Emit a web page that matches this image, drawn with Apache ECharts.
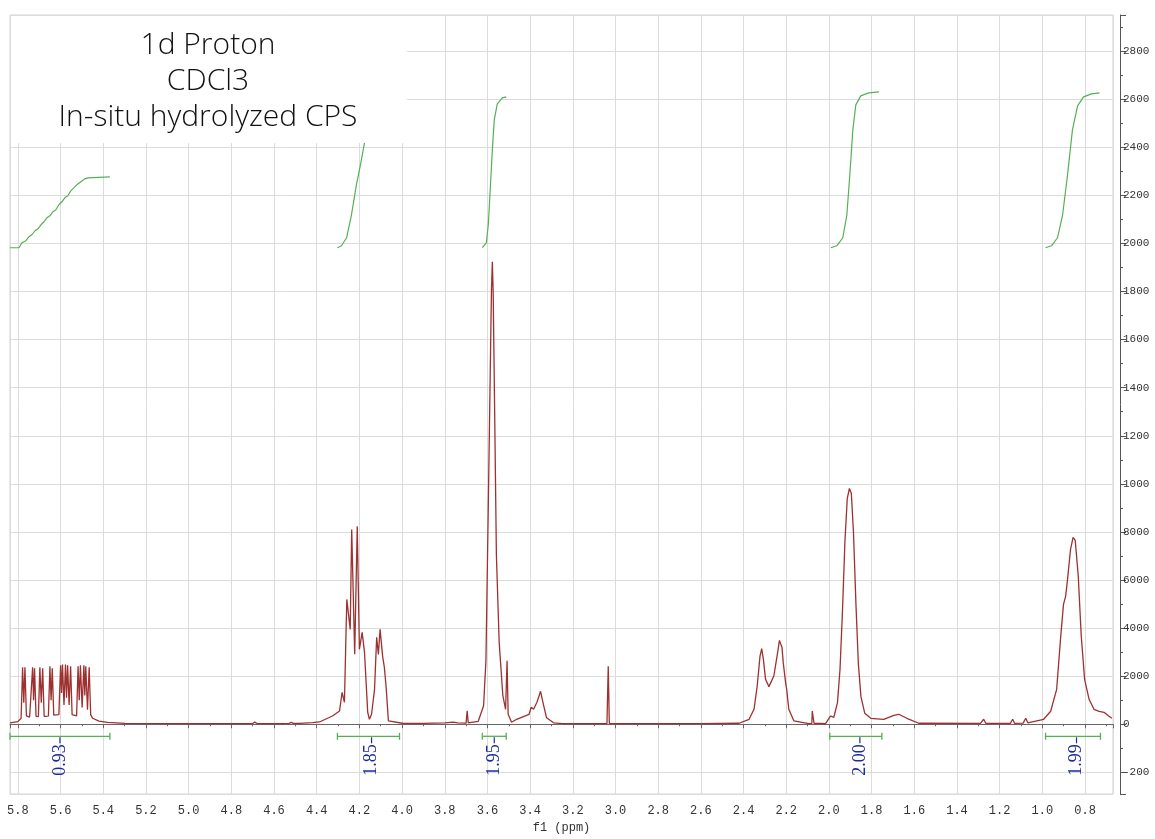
<!DOCTYPE html>
<html>
<head>
<meta charset="utf-8">
<title>1d Proton - CDCl3</title>
<script src="https://cdn.jsdelivr.net/npm/echarts@6.0.0/dist/echarts.min.js"></script>
<style>
  html, body { margin: 0; padding: 0; background: #fff; }
  #chart { width: 1155px; height: 839px; }
</style>
</head>
<body>
<div id="chart"></div>
<script>
// ---- data --------------------------------------------------------------
// 1H spectrum, [shift in ppm, intensity]
const spectrum = [
  [5.837, 60], [5.800, 110], [5.785, 250],
  [5.778, 2370], [5.7725, 900], [5.767, 2370], [5.760, 350], [5.745, 300], [5.737, 350],
  [5.731, 2370], [5.7265, 1000], [5.722, 2330], [5.715, 330], [5.704, 320],
  [5.697, 2370], [5.6905, 900], [5.684, 2330], [5.677, 330], [5.657, 340],
  [5.650, 2410], [5.6445, 1000], [5.639, 2330], [5.632, 380], [5.608, 400],
  [5.600, 2450], [5.5955, 1300], [5.591, 2490], [5.584, 800], [5.577, 2490],
  [5.572, 1100], [5.567, 2450], [5.560, 800], [5.553, 2410], [5.546, 400], [5.525, 350],
  [5.518, 2410], [5.5125, 1000], [5.507, 2450], [5.499, 700], [5.491, 2450],
  [5.4865, 1200], [5.482, 2410], [5.474, 600], [5.466, 2370], [5.459, 400],
  [5.450, 250], [5.420, 130], [5.380, 80], [5.300, 40], [5.000, 30],
  [4.700, 30], [4.690, 90], [4.680, 30], [4.530, 30], [4.520, 80], [4.510, 35],
  [4.480, 40], [4.420, 70], [4.387, 96], [4.326, 345], [4.293, 553],
  [4.281, 1330], [4.270, 914], [4.259, 5194], [4.250, 5277], [4.243, 3947],
  [4.236, 8102], [4.222, 2909], [4.210, 8240], [4.200, 3116], [4.187, 3823],
  [4.176, 2992], [4.161, 499], [4.153, 208], [4.143, 415], [4.129, 1454],
  [4.119, 3615], [4.111, 2909], [4.103, 3947], [4.091, 2825], [4.083, 2368],
  [4.075, 1579], [4.064, 137], [3.998, 42], [3.900, 40], [3.800, 60],
  [3.760, 90], [3.740, 60], [3.700, 50], [3.695, 560], [3.690, 60],
  [3.643, 125], [3.618, 769], [3.607, 2659], [3.597, 8489], [3.585, 15773],
  [3.581, 18100], [3.577, 19238], [3.573, 17900], [3.568, 14314], [3.558, 7034],
  [3.545, 3407], [3.528, 1205], [3.515, 623], [3.508, 2640], [3.503, 416],
  [3.487, 83], [3.463, 208], [3.405, 416], [3.395, 706], [3.384, 623],
  [3.368, 914], [3.351, 1371], [3.340, 914], [3.323, 270], [3.290, 62],
  [3.250, 30], [3.040, 30], [3.034, 2410], [3.029, 30], [2.800, 30],
  [2.600, 30], [2.421, 42], [2.374, 208], [2.351, 623], [2.336, 1591],
  [2.323, 2825], [2.315, 3145], [2.307, 2700], [2.297, 1870], [2.281, 1566],
  [2.258, 2007], [2.238, 3116], [2.232, 3490], [2.226, 3561], [2.220, 3200],
  [2.214, 2564], [2.203, 1733], [2.198, 1454], [2.188, 623], [2.164, 137],
  [2.094, 30], [2.080, 40], [2.078, 553], [2.070, 42], [2.016, 30],
  [1.992, 345], [1.977, 291], [1.960, 900], [1.948, 2300], [1.937, 4600],
  [1.925, 7600], [1.914, 9400], [1.904, 9806], [1.895, 9600], [1.885, 8000],
  [1.873, 4900], [1.862, 2500], [1.850, 1150], [1.832, 457], [1.804, 249],
  [1.743, 208], [1.696, 374], [1.673, 416], [1.635, 249], [1.579, 42],
  [1.290, 40], [1.275, 208], [1.265, 40], [1.150, 40], [1.139, 208],
  [1.130, 40], [1.090, 50], [1.078, 249], [1.068, 60], [0.994, 208],
  [0.961, 540], [0.933, 1454], [0.915, 3532], [0.901, 4986], [0.891, 5318],
  [0.882, 6025], [0.868, 7271], [0.856, 7770], [0.846, 7650], [0.832, 6200],
  [0.818, 3700], [0.802, 1870], [0.781, 1039], [0.758, 623], [0.734, 540],
  [0.711, 499], [0.688, 332], [0.674, 249]
];

// integral curves, [ppm, running integral]
const integral1 = [
  [5.837, 19820], [5.795, 19820], [5.781, 20027], [5.763, 20110], [5.749, 20276],
  [5.734, 20360], [5.720, 20526], [5.706, 20609], [5.692, 20775], [5.678, 20900],
  [5.664, 21066], [5.650, 21149], [5.636, 21315], [5.622, 21398], [5.608, 21606],
  [5.594, 21731], [5.580, 21897], [5.566, 21980], [5.552, 22188], [5.538, 22312],
  [5.524, 22437], [5.505, 22562], [5.486, 22686], [5.472, 22728], [5.463, 22769],
  [5.369, 22769]
];
const integral2 = [
  [4.303, 19820], [4.284, 19902], [4.260, 20235], [4.237, 21191], [4.214, 22437],
  [4.195, 23268], [4.176, 24182], [4.157, 25138], [4.129, 25636], [4.083, 25803],
  [4.036, 25844]
];
const integral3 = [
  [3.624, 19820], [3.605, 20027], [3.596, 20775], [3.587, 22229], [3.577, 23891],
  [3.568, 25138], [3.554, 25803], [3.530, 26052], [3.512, 26093]
];
const integral4 = [
  [1.991, 19820], [1.963, 19902], [1.935, 20235], [1.916, 21191], [1.902, 22853],
  [1.888, 24722], [1.874, 25761], [1.851, 26135], [1.813, 26260], [1.766, 26301]
];
const integral5 = [
  [0.985, 19820], [0.957, 19902], [0.929, 20235], [0.905, 21191], [0.882, 22853],
  [0.859, 24722], [0.835, 25719], [0.807, 26093], [0.770, 26218], [0.732, 26260]
];

// integration ranges [from ppm, to ppm, label ppm] and their values
const integralRanges = [
  [5.837, 5.369, 5.603],
  [4.303, 4.012, 4.143],
  [3.624, 3.512, 3.568],
  [1.996, 1.752, 1.855],
  [0.985, 0.728, 0.840]
];
const integralValues = ['0.93', '1.85', '1.95', '2.00', '1.99'];

// right-hand intensity ticks and the text printed beside them
const yTickValues = [-2000, 0, 2000, 4000, 6000, 8000, 10000, 12000, 14000,
                     16000, 18000, 20000, 22000, 24000, 26000, 28000];
const yTickLabels = ['-200', '0', '2000', '4000', '6000', '8000', '1000', '1200', '1400',
                     '1600', '1800', '2000', '2200', '2400', '2600', '2800'];

const titleLines = ['1d Proton', 'CDCl3', 'In-situ hydrolyzed CPS'];

// ---- chart -------------------------------------------------------------
const PPM_MIN = 0.669, PPM_MAX = 5.837;
const INT_MIN = -2900, INT_MAX = 29500;
const BAR_LEVEL = -500;

const RED = '#9e3030';
const GREEN = '#55b055';
const NAVY = '#1c2a9c';
const MONO = '"Liberation Mono", "DejaVu Sans Mono", monospace';

const chart = echarts.init(document.getElementById('chart'), null, { renderer: 'canvas' });

function integralSeries(data) {
  return {
    type: 'line', data, showSymbol: false, symbol: 'none', smooth: false,
    lineStyle: { color: GREEN, width: 1.2 }, z: 3, silent: true, animation: false
  };
}

const option = {
  backgroundColor: '#ffffff',
  animation: false,
  grid: {
    left: 10, right: 42, top: 15, bottom: 42,
    show: true, borderColor: '#d2d2d2', borderWidth: 1, backgroundColor: '#fff',
    containLabel: false
  },
  xAxis: {
    type: 'value', inverse: true, min: PPM_MIN, max: PPM_MAX, splitNumber: 25,
    offset: 5,
    name: 'f1 (ppm)', nameLocation: 'middle', nameGap: 23,
    nameTextStyle: { fontFamily: MONO, fontSize: 12, color: '#333' },
    axisLine: { show: true, lineStyle: { color: '#666', width: 1 } },
    axisTick: { show: true, inside: false, length: 4, lineStyle: { color: '#666' } },
    minorTick: { show: true, splitNumber: 2, length: 2, lineStyle: { color: '#666' } },
    axisLabel: {
      show: true, margin: 6, fontFamily: MONO, fontSize: 12, color: '#333',
      showMinLabel: false, showMaxLabel: false, hideOverlap: false,
      formatter: v => v.toFixed(1)
    },
    splitLine: { show: true, lineStyle: { color: '#dcdcdc', width: 1 } },
    minorSplitLine: { show: false }
  },
  yAxis: {
    type: 'value', position: 'right', min: INT_MIN, max: INT_MAX, splitNumber: 16,
    offset: 7,
    axisLine: { show: true, lineStyle: { color: '#555', width: 1 } },
    axisTick: { show: true, inside: false, length: 6, lineStyle: { color: '#555' } },
    minorTick: { show: true, splitNumber: 2, length: 3, lineStyle: { color: '#555' } },
    axisLabel: {
      show: true, margin: 3, fontFamily: MONO, fontSize: 11, color: '#333',
      showMinLabel: false, showMaxLabel: false,
      formatter: v => {
        const i = yTickValues.indexOf(Math.round(v));
        return i < 0 ? '' : yTickLabels[i];
      }
    },
    splitLine: { show: true, lineStyle: { color: '#dcdcdc', width: 1 } }
  },
  series: [
    {
      type: 'line', data: spectrum, showSymbol: false, symbol: 'none', smooth: false,
      lineStyle: { color: RED, width: 1.3 }, z: 4, silent: true
    },
    integralSeries(integral1),
    integralSeries(integral2),
    integralSeries(integral3),
    integralSeries(integral4),
    integralSeries(integral5),
    {
      type: 'custom', data: integralRanges, silent: true, z: 5,
      encode: { x: [0, 1, 2] },
      renderItem(params, api) {
        const a = api.coord([api.value(0), BAR_LEVEL]);
        const b = api.coord([api.value(1), BAR_LEVEL]);
        const c = api.coord([api.value(2), BAR_LEVEL]);
        const bar = { stroke: GREEN, lineWidth: 1.3 };
        return {
          type: 'group',
          children: [
            { type: 'line', shape: { x1: a[0], y1: a[1], x2: b[0], y2: b[1] }, style: bar },
            { type: 'line', shape: { x1: a[0], y1: a[1] - 3.5, x2: a[0], y2: a[1] + 3.5 }, style: bar },
            { type: 'line', shape: { x1: b[0], y1: b[1] - 3.5, x2: b[0], y2: b[1] + 3.5 }, style: bar },
            { type: 'line', shape: { x1: c[0], y1: c[1] + 1, x2: c[0], y2: c[1] + 7 },
              style: { stroke: NAVY, lineWidth: 1.2 } },
            {
              type: 'text', x: c[0], y: c[1] + 8, rotation: Math.PI / 2,
              style: {
                text: integralValues[params.dataIndex], align: 'right', verticalAlign: 'middle',
                fill: NAVY, font: '18px "Liberation Serif", "DejaVu Serif", serif'
              }
            }
          ]
        };
      }
    }
  ],
  graphic: [
    { type: 'rect', z: 100, shape: { x: 11, y: 16, width: 396, height: 127 },
      style: { fill: '#ffffff' } },
    ...titleLines.map((t, i) => ({
      type: 'text', z: 101, x: 208, y: 45 + i * 36,
      style: {
        text: t, align: 'center', verticalAlign: 'middle', fill: '#111111',
        font: '300 30px "Open Sans", "Noto Sans", sans-serif'
      }
    }))
  ]
};

chart.setOption(option);
</script>
</body>
</html>
